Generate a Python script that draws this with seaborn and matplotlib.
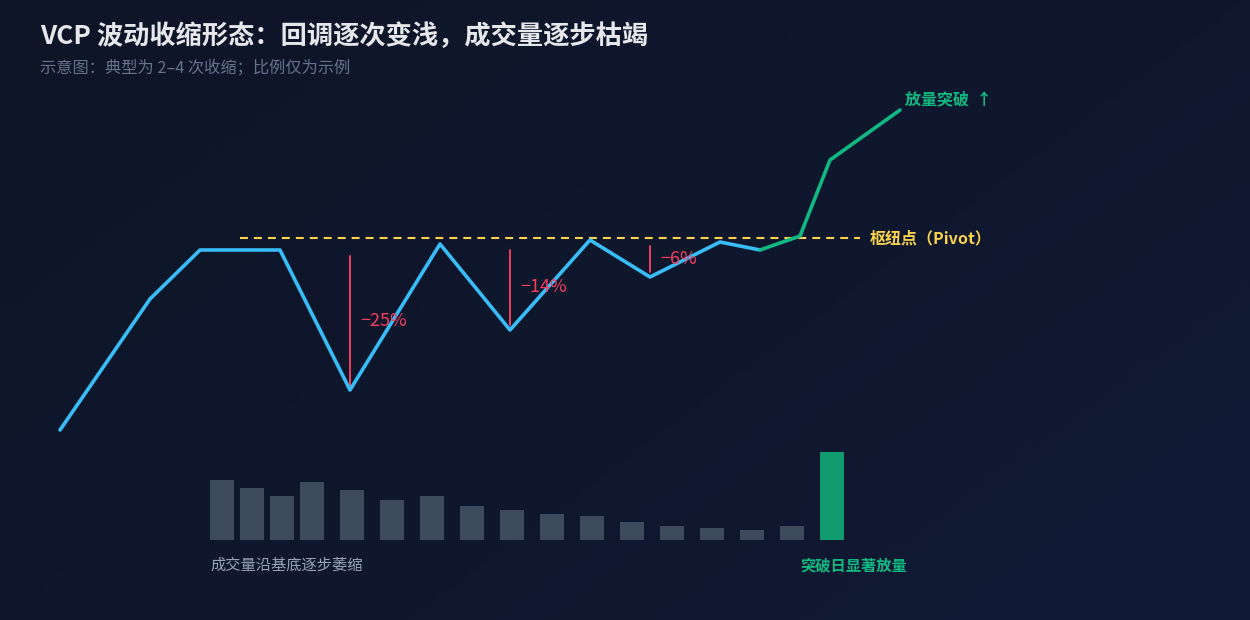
import numpy as np
import pandas as pd
import matplotlib
matplotlib.use("Agg")
import matplotlib.pyplot as plt
import seaborn as sns
from matplotlib.colors import LinearSegmentedColormap

# ---------------- data ----------------
# price path (time step, price level) -- schematic
base_t = [6, 15, 20, 28, 35, 44, 51, 59, 65, 72, 76]
base_p = [110, 241, 290, 290, 150, 296, 210, 300, 263, 298, 290]
break_t = [76, 80, 83, 90]
break_p = [290, 304, 380, 430]
pivot_level = 302
pivot_span = [24, 86]

# contractions: (peak index, trough index) in base path, label
contraction_peak_idx = [3, 5, 7]
contraction_low_idx = [4, 6, 8]
contraction_labels = ["\u221225%", "\u221214%", "\u22126%"]

# volume bars
vol_t = [22.2, 25.2, 28.2, 31.2, 35.2, 39.2, 43.2, 47.2, 51.2, 55.2, 59.2,
         63.2, 67.2, 71.2, 75.2, 79.2, 83.2]
vol_v = [60, 52, 44, 58, 50, 40, 44, 34, 30, 26, 24, 18, 14, 12, 10, 14, 88]
vol_kind = ["base"] * 16 + ["breakout"]

title = "VCP 波动收缩形态：回调逐次变浅，成交量逐步枯竭"
subtitle = "示意图：典型为 2–4 次收缩；比例仅为示例"
pivot_text = "枢纽点（Pivot）"
breakout_text = "放量突破  ↑"
vol_note = "成交量沿基底逐步萎缩"
vol_break_note = "突破日显著放量"

# ---------------- style ----------------
sns.set_theme(style="white")
plt.rcParams["font.family"] = ["Noto Sans CJK SC", "DejaVu Sans"]

BLUE = "#38bdf8"
GREEN = "#10b981"
RED = "#f43f5e"
YELLOW = "#fcd34d"
BAR_GRAY = "#3d4a5c"
BAR_GREEN = "#129a6f"

W, H = 1250, 620
fig = plt.figure(figsize=(W / 100, H / 100), dpi=100)

# background gradient
bg = fig.add_axes([0, 0, 1, 1])
bg.set_axis_off()
gx, gy = np.meshgrid(np.linspace(0, 1, 200), np.linspace(0, 1, 100))
grad = (gx * 0.6 + gy * 0.4)
cmap = LinearSegmentedColormap.from_list("bg", ["#0e1527", "#111a35"])
bg.imshow(grad, cmap=cmap, aspect="auto", extent=[0, 1, 0, 1], origin="upper")
bg.set_xlim(0, 1)
bg.set_ylim(0, 1)

XLIM = (0, W / 10)
YLIM = (-80, 540)

ax = fig.add_axes([0, 0, 1, 1])
ax.set_xlim(*XLIM)
ax.set_ylim(*YLIM)
ax.set_axis_off()
ax.patch.set_alpha(0)

# volume bars
vax = fig.add_axes([0, 0, 1, 1])
vdf = pd.DataFrame({"t": vol_t, "v": vol_v, "kind": vol_kind})
sns.barplot(data=vdf, x="t", y="v", hue="kind", native_scale=True, width=0.8,
            palette={"base": BAR_GRAY, "breakout": BAR_GREEN}, legend=False,
            ax=vax, saturation=1, linewidth=0)
vax.set_xlim(*XLIM)
vax.set_ylim(*YLIM)
vax.set_axis_off()
vax.patch.set_alpha(0)

# pivot line
ax.plot(pivot_span, [pivot_level, pivot_level], color=YELLOW, lw=1.5,
        dashes=(3.8, 2.9), zorder=2)

# price path
df_base = pd.DataFrame({"t": base_t, "p": base_p})
df_break = pd.DataFrame({"t": break_t, "p": break_p})
sns.lineplot(data=df_base, x="t", y="p", sort=False, color=BLUE, lw=2.6,
             ax=ax, zorder=4, solid_capstyle="round")
sns.lineplot(data=df_break, x="t", y="p", sort=False, color=GREEN, lw=2.6,
             ax=ax, zorder=5, solid_capstyle="round")
ax.set_xlim(*XLIM)
ax.set_ylim(*YLIM)
ax.set_axis_off()

# contraction depth markers
for pi, li, lab in zip(contraction_peak_idx, contraction_low_idx, contraction_labels):
    tx = base_t[li]
    top = base_p[pi] - 6
    bot = base_p[li] + 5
    ax.plot([tx, tx], [bot, top], color=RED, lw=1.4, zorder=3)
    ax.text(tx + 1.0, (top + bot) / 2, lab, color=RED, fontsize=13,
            fontweight="medium", va="center", ha="left", zorder=6)

# labels
ax.text(pivot_span[1] + 1.0, pivot_level, pivot_text, color=YELLOW,
        fontsize=11.5, fontweight="bold", va="center", ha="left")
ax.text(break_t[-1] + 0.5, break_p[-1] + 11, breakout_text, color=GREEN,
        fontsize=11.5, fontweight="bold", va="center", ha="left")

fig.text(40 / W, 1 - 37 / H, title, color="#e5e7eb", fontsize=18.9,
         fontweight="bold", va="center", ha="left")
fig.text(40 / W, 1 - 68 / H, subtitle, color="#64748b", fontsize=11.7,
         va="center", ha="left")
fig.text(210 / W, 1 - 565 / H, vol_note, color="#94a3b8", fontsize=11,
         va="center", ha="left")
fig.text(800 / W, 1 - 565 / H, vol_break_note, color=GREEN, fontsize=11,
         fontweight="bold", va="center", ha="left")

fig.savefig("out.png", dpi=100)
